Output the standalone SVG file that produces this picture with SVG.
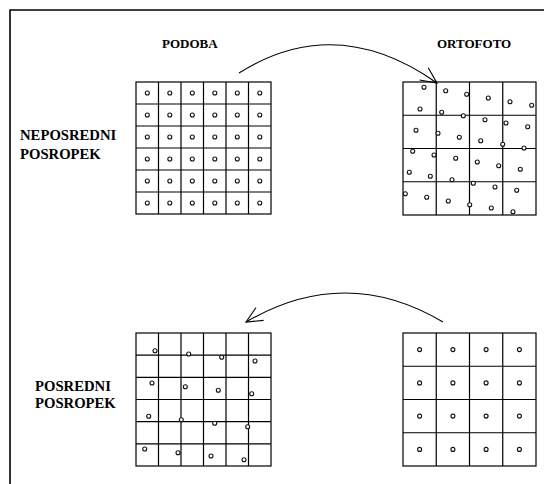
<svg xmlns="http://www.w3.org/2000/svg" width="544" height="484" viewBox="0 0 544 484">
<style>
.frame{fill:none;stroke:#000;stroke-width:1.6}
.grid{fill:none;stroke:#000;stroke-width:1.2}
.dot{fill:#fff;stroke:#111;stroke-width:1.1}
.arc{fill:none;stroke:#000;stroke-width:1.1}
</style>
<defs>
<marker id="vhead" markerUnits="userSpaceOnUse" viewBox="-18 -10 20 20" refX="0" refY="0" markerWidth="20" markerHeight="20" orient="auto">
<path d="M-16,-7.5 L0,0 L-16,7.5" fill="none" stroke="#000" stroke-width="1.1"/>
</marker>
</defs>
<rect width="544" height="484" fill="#fff"/>
<path class="frame" d="M10,484 V10 H544"/>
<g font-family="Liberation Serif" font-weight="bold" fill="#000">
<g id="labels" font-size="13">
<text x="162" y="48">PODOBA</text>
<text x="437" y="48">ORTOFOTO</text>
</g>
<g id="label-neposredni" font-size="14.7">
<text x="20" y="140">NEPOSREDNI</text>
<text x="20" y="159">POSROPEK</text>
</g>
<g id="label-posredni" font-size="14.7">
<text x="35" y="391">POSREDNI</text>
<text x="35" y="408">POSROPEK</text>
</g>
</g>
<g id="connectors">
<path class="arc" d="M239,73 Q336,12 437,83" marker-end="url(#vhead)"/>
<path class="arc" d="M443,322 Q345,264 246,322" marker-end="url(#vhead)"/>
</g>
<g id="podoba-direct">
<rect class="grid" x="136" y="82" width="135" height="132"/>
<path class="grid" d="M158.5,82V214M181,82V214M203.5,82V214M226,82V214M248.5,82V214M136,104H271M136,126H271M136,148H271M136,170H271M136,192H271"/>
<g class="dot">
<circle cx="147.3" cy="93" r="2"/><circle cx="169.8" cy="93" r="2"/><circle cx="192.3" cy="93" r="2"/><circle cx="214.8" cy="93" r="2"/><circle cx="237.3" cy="93" r="2"/><circle cx="259.8" cy="93" r="2"/>
<circle cx="147.3" cy="115" r="2"/><circle cx="169.8" cy="115" r="2"/><circle cx="192.3" cy="115" r="2"/><circle cx="214.8" cy="115" r="2"/><circle cx="237.3" cy="115" r="2"/><circle cx="259.8" cy="115" r="2"/>
<circle cx="147.3" cy="137" r="2"/><circle cx="169.8" cy="137" r="2"/><circle cx="192.3" cy="137" r="2"/><circle cx="214.8" cy="137" r="2"/><circle cx="237.3" cy="137" r="2"/><circle cx="259.8" cy="137" r="2"/>
<circle cx="147.3" cy="159" r="2"/><circle cx="169.8" cy="159" r="2"/><circle cx="192.3" cy="159" r="2"/><circle cx="214.8" cy="159" r="2"/><circle cx="237.3" cy="159" r="2"/><circle cx="259.8" cy="159" r="2"/>
<circle cx="147.3" cy="181" r="2"/><circle cx="169.8" cy="181" r="2"/><circle cx="192.3" cy="181" r="2"/><circle cx="214.8" cy="181" r="2"/><circle cx="237.3" cy="181" r="2"/><circle cx="259.8" cy="181" r="2"/>
<circle cx="147.3" cy="203" r="2"/><circle cx="169.8" cy="203" r="2"/><circle cx="192.3" cy="203" r="2"/><circle cx="214.8" cy="203" r="2"/><circle cx="237.3" cy="203" r="2"/><circle cx="259.8" cy="203" r="2"/>
</g>
</g>
<g id="ortofoto-direct">
<rect class="grid" x="403" y="82" width="133" height="133"/>
<path class="grid" d="M436.25,82V215M469.5,82V215M502.75,82V215M403,115.25H536M403,148.5H536M403,181.75H536"/>
<g class="dot">
<circle cx="424" cy="87.3" r="2"/><circle cx="445.7" cy="90.7" r="2"/><circle cx="466.7" cy="94.3" r="2"/><circle cx="488.3" cy="98" r="2"/><circle cx="510" cy="101.7" r="2"/><circle cx="531.7" cy="105.3" r="2"/>
<circle cx="420" cy="109" r="2"/><circle cx="441.7" cy="112.3" r="2"/><circle cx="463.3" cy="115.7" r="2"/><circle cx="485" cy="119.7" r="2"/><circle cx="506" cy="123" r="2"/><circle cx="527.7" cy="126.7" r="2"/>
<circle cx="416" cy="130.3" r="2"/><circle cx="438" cy="133.3" r="2"/><circle cx="459.3" cy="137.3" r="2"/><circle cx="480.7" cy="140.7" r="2"/><circle cx="502.7" cy="144.3" r="2"/><circle cx="524" cy="148" r="2"/>
<circle cx="412.7" cy="151.3" r="2"/><circle cx="434" cy="155" r="2"/><circle cx="455.7" cy="158.3" r="2"/><circle cx="477.3" cy="162" r="2"/><circle cx="498.7" cy="165.7" r="2"/><circle cx="520.3" cy="169.3" r="2"/>
<circle cx="409.3" cy="172.3" r="2"/><circle cx="430.3" cy="176.3" r="2"/><circle cx="452" cy="179.7" r="2"/><circle cx="473.3" cy="183.3" r="2"/><circle cx="495" cy="187" r="2"/><circle cx="516.7" cy="190.3" r="2"/>
<circle cx="405.3" cy="193.7" r="2"/><circle cx="426.7" cy="197.3" r="2"/><circle cx="448.3" cy="201" r="2"/><circle cx="469.7" cy="204.7" r="2"/><circle cx="491.3" cy="208" r="2"/><circle cx="513" cy="211.7" r="2"/>
</g>
</g>
<g id="podoba-indirect">
<rect class="grid" x="136" y="333" width="135" height="133"/>
<path class="grid" d="M158.5,333V466M181,333V466M203.5,333V466M226,333V466M248.5,333V466M136,355.2H271M136,377.3H271M136,399.5H271M136,421.7H271M136,443.8H271"/>
<g class="dot">
<circle cx="155" cy="350.7" r="2"/><circle cx="188.7" cy="354" r="2"/><circle cx="221.7" cy="357.3" r="2"/><circle cx="255" cy="361" r="2"/>
<circle cx="152" cy="383" r="2"/><circle cx="185.3" cy="386.7" r="2"/><circle cx="218.3" cy="390.3" r="2"/><circle cx="251.7" cy="393.7" r="2"/>
<circle cx="148.7" cy="416.3" r="2"/><circle cx="181.3" cy="419.7" r="2"/><circle cx="214.7" cy="423.3" r="2"/><circle cx="247.7" cy="426.7" r="2"/>
<circle cx="144.7" cy="449" r="2"/><circle cx="178" cy="452.7" r="2"/><circle cx="211" cy="456" r="2"/><circle cx="244" cy="459.7" r="2"/>
</g>
</g>
<g id="ortofoto-indirect">
<rect class="grid" x="403" y="333" width="133" height="133"/>
<path class="grid" d="M436.25,333V466M469.5,333V466M502.75,333V466M403,366.25H536M403,399.5H536M403,432.75H536"/>
<g class="dot">
<circle cx="419.6" cy="349.6" r="2"/><circle cx="452.9" cy="349.6" r="2"/><circle cx="486.1" cy="349.6" r="2"/><circle cx="519.4" cy="349.6" r="2"/>
<circle cx="419.6" cy="382.9" r="2"/><circle cx="452.9" cy="382.9" r="2"/><circle cx="486.1" cy="382.9" r="2"/><circle cx="519.4" cy="382.9" r="2"/>
<circle cx="419.6" cy="416.1" r="2"/><circle cx="452.9" cy="416.1" r="2"/><circle cx="486.1" cy="416.1" r="2"/><circle cx="519.4" cy="416.1" r="2"/>
<circle cx="419.6" cy="449.4" r="2"/><circle cx="452.9" cy="449.4" r="2"/><circle cx="486.1" cy="449.4" r="2"/><circle cx="519.4" cy="449.4" r="2"/>
</g>
</g>
</svg>
